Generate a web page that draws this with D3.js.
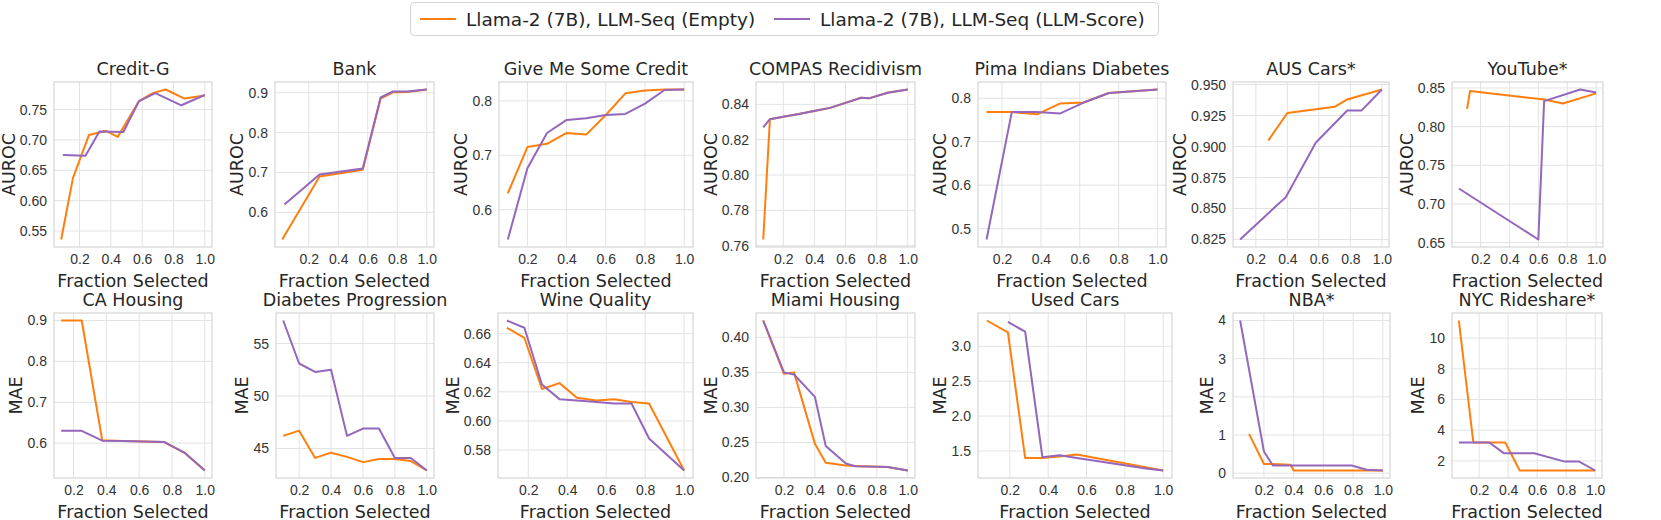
<!DOCTYPE html>
<html>
<head>
<meta charset="utf-8">
<script src="https://cdn.jsdelivr.net/npm/d3@7"></script>
<style>
  body { margin: 0; background: #fff; }
  svg { font-family: "DejaVu Sans", sans-serif; }
  .grid line { stroke: #e3e3e3; stroke-width: 1; }
  .tick text { fill: #333; font-size: 14px; }
  .title, .label { fill: #262626; font-size: 17.5px; }
  .legend-text { fill: #262626; font-size: 18.5px; }
</style>
</head>
<body>
<svg width="1661" height="520"></svg>
<script>
const seriesNames = ["Llama-2 (7B), LLM-Seq (Empty)", "Llama-2 (7B), LLM-Seq (LLM-Score)"];
const colors = ["#ff7f0e", "#9467bd"];

const titles = ["Credit-G", "Bank", "Give Me Some Credit", "COMPAS Recidivism", "Pima Indians Diabetes", "AUS Cars*", "YouTube*",
  "CA Housing", "Diabetes Progression", "Wine Quality", "Miami Housing", "Used Cars", "NBA*", "NYC Rideshare*"];
const yLabels = ["AUROC", "AUROC", "AUROC", "AUROC", "AUROC", "AUROC", "AUROC", "MAE", "MAE", "MAE", "MAE", "MAE", "MAE", "MAE"];

// [x, value] pairs per panel
const emptySeries = [
  [[0.083,0.536],[0.158,0.637],[0.26,0.708],[0.37,0.715],[0.444,0.705],[0.58,0.764],[0.667,0.777],[0.75,0.783],[0.87,0.768],[1.0,0.773]],
  [[0.02,0.532],[0.273,0.69],[0.566,0.707],[0.687,0.885],[0.771,0.901],[0.867,0.902],[1.0,0.908]],
  [[0.1,0.63],[0.2,0.715],[0.3,0.721],[0.4,0.741],[0.5,0.738],[0.6,0.774],[0.7,0.814],[0.8,0.819],[0.9,0.821],[1.0,0.821]],
  [[0.071,0.7635],[0.114,0.8316],[0.2,0.833],[0.3,0.8345],[0.43,0.8368],[0.5,0.838],[0.57,0.840],[0.70,0.8437],[0.75,0.8434],[0.87,0.8466],[1.0,0.8484]],
  [[0.12,0.768],[0.25,0.768],[0.38,0.763],[0.5,0.788],[0.62,0.79],[0.75,0.812],[1.0,0.82]],
  [[0.28,0.905],[0.4,0.927],[0.7,0.932],[0.78,0.938],[1.0,0.946]],
  [[0.107,0.823],[0.127,0.846],[0.64,0.835],[0.77,0.830],[1.0,0.843]],
  [[0.125,0.9],[0.25,0.9],[0.375,0.607],[0.5,0.605],[0.625,0.604],[0.75,0.603],[0.875,0.577],[1.0,0.533]],
  [[0.1,46.2],[0.2,46.7],[0.3,44.1],[0.4,44.6],[0.5,44.2],[0.6,43.7],[0.7,44.0],[0.8,44.0],[0.9,43.8],[1.0,42.9]],
  [[0.09,0.664],[0.18,0.657],[0.27,0.622],[0.36,0.626],[0.45,0.616],[0.55,0.614],[0.64,0.615],[0.73,0.613],[0.82,0.612],[1.0,0.566]],
  [[0.066,0.424],[0.2,0.348],[0.265,0.35],[0.4,0.248],[0.47,0.221],[0.6,0.217],[0.7,0.216],[0.87,0.215],[1.0,0.21]],
  [[0.08,3.37],[0.19,3.2],[0.28,1.4],[0.37,1.4],[0.46,1.42],[0.55,1.45],[1.0,1.22]],
  [[0.1,1.03],[0.2,0.24],[0.26,0.24],[0.38,0.22],[0.4,0.07],[1.0,0.07]],
  [[0.06,11.15],[0.16,3.2],[0.38,3.2],[0.48,1.37],[1.0,1.37]]
];
const scoreSeries = [
  [[0.094,0.675],[0.238,0.674],[0.327,0.714],[0.48,0.713],[0.58,0.764],[0.684,0.777],[0.85,0.757],[1.0,0.774]],
  [[0.035,0.62],[0.273,0.695],[0.566,0.71],[0.687,0.888],[0.771,0.903],[0.867,0.903],[1.0,0.908]],
  [[0.1,0.545],[0.2,0.676],[0.3,0.741],[0.4,0.765],[0.5,0.768],[0.6,0.774],[0.7,0.776],[0.8,0.795],[0.9,0.82],[1.0,0.821]],
  [[0.071,0.827],[0.114,0.8316],[0.2,0.833],[0.3,0.8345],[0.43,0.8368],[0.5,0.838],[0.57,0.840],[0.70,0.8437],[0.75,0.8434],[0.87,0.8466],[1.0,0.8484]],
  [[0.12,0.475],[0.25,0.768],[0.38,0.768],[0.5,0.765],[0.62,0.79],[0.75,0.812],[1.0,0.82]],
  [[0.1,0.825],[0.32,0.851],[0.39,0.859],[0.58,0.903],[0.78,0.929],[0.87,0.929],[1.0,0.946]],
  [[0.05,0.72],[0.6,0.654],[0.64,0.833],[0.89,0.848],[1.0,0.844]],
  [[0.125,0.63],[0.25,0.63],[0.375,0.606],[0.5,0.605],[0.625,0.604],[0.75,0.603],[0.875,0.577],[1.0,0.533]],
  [[0.1,57.2],[0.2,53.1],[0.3,52.3],[0.4,52.5],[0.5,46.2],[0.6,46.9],[0.7,46.9],[0.8,44.1],[0.9,44.1],[1.0,42.9]],
  [[0.09,0.669],[0.18,0.664],[0.27,0.625],[0.36,0.615],[0.45,0.614],[0.55,0.613],[0.64,0.612],[0.73,0.612],[0.82,0.588],[1.0,0.566]],
  [[0.066,0.424],[0.2,0.35],[0.265,0.347],[0.4,0.315],[0.47,0.245],[0.6,0.22],[0.66,0.216],[0.87,0.215],[1.0,0.21]],
  [[0.19,3.35],[0.28,3.21],[0.37,1.41],[0.46,1.44],[0.55,1.40],[0.91,1.25],[1.0,1.22]],
  [[0.04,4.0],[0.2,0.57],[0.26,0.2],[0.79,0.2],[0.89,0.09],[1.0,0.07]],
  [[0.06,3.2],[0.27,3.2],[0.37,2.5],[0.58,2.5],[0.79,1.95],[0.89,1.95],[1.0,1.37]]
];

const xTicks = [0.2, 0.4, 0.6, 0.8, 1.0];
const yTicks = [
  [0.55, 0.60, 0.65, 0.70, 0.75], [0.6, 0.7, 0.8, 0.9], [0.6, 0.7, 0.8], [0.76, 0.78, 0.80, 0.82, 0.84],
  [0.5, 0.6, 0.7, 0.8], [0.825, 0.850, 0.875, 0.900, 0.925, 0.950], [0.65, 0.70, 0.75, 0.80, 0.85],
  [0.6, 0.7, 0.8, 0.9], [45, 50, 55], [0.58, 0.60, 0.62, 0.64, 0.66], [0.20, 0.25, 0.30, 0.35, 0.40],
  [1.5, 2.0, 2.5, 3.0], [0, 1, 2, 3, 4], [2, 4, 6, 8, 10]
];
const yFormats = [".2f", ".1f", ".1f", ".2f", ".1f", ".3f", ".2f", ".1f", "d", ".2f", ".2f", ".1f", "d", "d"];

// panel placement (layout only)
const panelX = [[54,212],[275,434],[499,693],[756,915],[978,1166],[1233,1389],[1452,1603],
  [54,212],[276,434],[498,693],[756,915],[978,1172],[1233,1390],[1452,1602]];
const rowY = [[82,247],[313,478]];

const svg = d3.select("svg");

// legend
const legend = svg.append("g");
legend.append("rect").attr("x", 410.5).attr("y", 2.5).attr("width", 748).attr("height", 33).attr("rx", 4)
  .attr("fill", "#fff").attr("stroke", "#d5d5d5");
const legendX = [420, 774];
seriesNames.forEach((name, i) => {
  legend.append("line").attr("x1", legendX[i]).attr("x2", legendX[i] + 36).attr("y1", 19).attr("y2", 19)
    .attr("stroke", colors[i]).attr("stroke-width", 2);
  legend.append("text").attr("class", "legend-text").attr("x", legendX[i] + 46).attr("y", 25.5).text(name);
});

const pad = (ext) => { const d = (ext[1] - ext[0]) * 0.05; return [ext[0] - d, ext[1] + d]; };

titles.forEach((title, p) => {
  const [x0, x1] = panelX[p];
  const [y0, y1] = rowY[p < 7 ? 0 : 1];
  const all = emptySeries[p].concat(scoreSeries[p]);

  const x = d3.scaleLinear().domain(pad(d3.extent(all, (d) => d[0]))).range([x0, x1]);
  const y = d3.scaleLinear().domain(pad(d3.extent(all, (d) => d[1]))).range([y1, y0]);

  const g = svg.append("g");

  // grid
  const grid = g.append("g").attr("class", "grid");
  grid.selectAll("line.v").data(xTicks).enter().append("line")
    .attr("x1", (d) => x(d)).attr("x2", (d) => x(d)).attr("y1", y0).attr("y2", y1);
  grid.selectAll("line.h").data(yTicks[p]).enter().append("line")
    .attr("x1", x0).attr("x2", x1).attr("y1", (d) => y(d)).attr("y2", (d) => y(d));

  g.append("rect").attr("x", x0).attr("y", y0).attr("width", x1 - x0).attr("height", y1 - y0)
    .attr("fill", "none").attr("stroke", "#d6d6d6").attr("stroke-width", 1.2);

  // axes
  const xAxis = g.append("g").attr("transform", `translate(0,${y1})`)
    .call(d3.axisBottom(x).tickValues(xTicks).tickFormat(d3.format(".1f")).tickSize(0).tickPadding(7));
  const yAxis = g.append("g").attr("transform", `translate(${x0},0)`)
    .call(d3.axisLeft(y).tickValues(yTicks[p]).tickFormat(d3.format(yFormats[p])).tickSize(0).tickPadding(7));
  [xAxis, yAxis].forEach((a) => a.select(".domain").remove());

  let tw = 0;
  yAxis.selectAll("text").each(function () { tw = Math.max(tw, this.getBBox().width); });

  // lines
  const line = d3.line().x((d) => x(d[0])).y((d) => y(d[1]));
  [emptySeries[p], scoreSeries[p]].forEach((s, i) => {
    g.append("path").datum(s).attr("d", line).attr("fill", "none")
      .attr("stroke", colors[i]).attr("stroke-width", 2).attr("stroke-linejoin", "round");
  });

  g.append("text").attr("class", "title").attr("x", (x0 + x1) / 2).attr("y", y0 - 7)
    .attr("text-anchor", "middle").text(title);
  g.append("text").attr("class", "label").attr("x", (x0 + x1) / 2).attr("y", y1 + 40)
    .attr("text-anchor", "middle").text("Fraction Selected");
  g.append("text").attr("class", "label")
    .attr("transform", `translate(${x0 - tw - 12},${(y0 + y1) / 2}) rotate(-90)`)
    .attr("text-anchor", "middle").text(yLabels[p]);
});
</script>
</body>
</html>
